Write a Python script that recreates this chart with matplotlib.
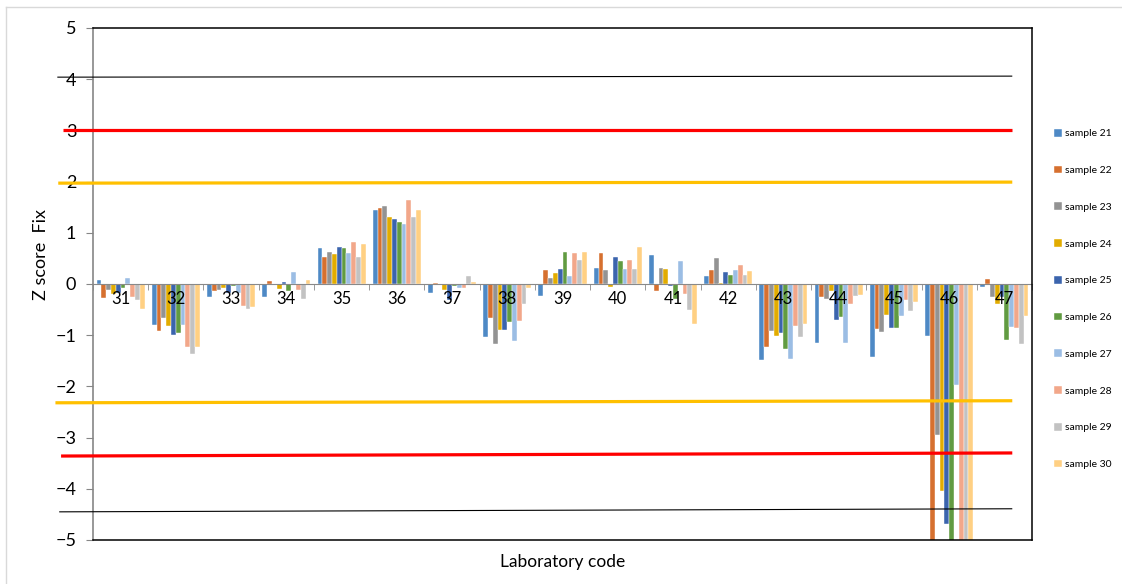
import numpy as np
import matplotlib
matplotlib.use("Agg")
import matplotlib.pyplot as plt
from matplotlib.lines import Line2D
import matplotlib.transforms as mtransforms

plt.rcParams['font.family'] = ['Lato', 'DejaVu Sans']

labs = ['31', '32', '33', '34', '35', '36', '37', '38', '39', '40',
        '41', '42', '43', '44', '45', '46', '47']
samples = ['sample 21', 'sample 22', 'sample 23', 'sample 24', 'sample 25',
           'sample 26', 'sample 27', 'sample 28', 'sample 29', 'sample 30']

# z scores, one list per sample, in lab order 31..47
s21 = [0.07, -0.81, -0.26, -0.26, 0.71, 1.45, -0.18, -1.03, -0.23, 0.32, 0.57, 0.16, -1.48, -1.16, -1.42, -1.02, -0.06]
s22 = [-0.28, -0.91, -0.14, 0.05, 0.53, 1.48, 0.02, -0.66, 0.27, 0.60, -0.13, 0.27, -1.23, -0.26, -0.87, -5.3, 0.10]
s23 = [-0.12, -0.67, -0.12, 0.0, 0.62, 1.53, 0.0, -1.17, 0.12, 0.27, 0.31, 0.51, -0.91, -0.30, -0.93, -2.95, -0.26]
s24 = [-0.20, -0.83, -0.08, -0.09, 0.58, 1.30, -0.12, -0.90, 0.21, -0.05, 0.29, 0.01, -1.01, -0.13, -0.60, -4.04, -0.39]
s25 = [-0.18, -1.00, -0.17, 0.03, 0.73, 1.27, -0.31, -0.89, 0.29, 0.52, -0.04, 0.23, -0.95, -0.70, -0.85, -4.68, -0.26]
s26 = [-0.08, -0.96, -0.04, -0.14, 0.71, 1.21, -0.04, -0.75, 0.62, 0.44, -0.29, 0.18, -1.27, -0.64, -0.85, -5.3, -1.10]
s27 = [0.11, -0.81, -0.18, 0.23, 0.61, 1.18, -0.08, -1.12, 0.15, 0.29, 0.45, 0.27, -1.47, -1.16, -0.63, -1.97, -0.84]
s28 = [-0.25, -1.24, -0.42, -0.11, 0.82, 1.65, -0.08, -0.73, 0.60, 0.47, -0.20, 0.37, -0.83, -0.40, -0.32, -5.3, -0.85]
s29 = [-0.31, -1.37, -0.49, -0.29, 0.53, 1.31, 0.15, -0.40, 0.47, 0.30, -0.51, 0.17, -1.03, -0.23, -0.52, -5.3, -1.17]
s30 = [-0.48, -1.23, -0.44, 0.08, 0.79, 1.44, 0.04, -0.08, 0.62, 0.73, -0.79, 0.26, -0.79, -0.21, -0.36, -5.3, -0.62]
series = [s21, s22, s23, s24, s25, s26, s27, s28, s29, s30]

colors = ['#4E89C5', '#D6702F', '#939393', '#E2AC00', '#3B64AD',
          '#619B41', '#9BBDE4', '#F2A78A', '#C2C2C2', '#FFD083']

# limit lines (value at left end, value at right end)
line_left = [4.04, 3.01, 1.97, -2.32, -3.36, -4.45]
line_right = [4.06, 3.01, 1.99, -2.28, -3.30, -4.39]
line_colors = ['black', '#FF0000', '#FFC000', '#FFC000', '#FF0000', 'black']
line_widths = [0.8, 2.3, 2.3, 2.3, 2.3, 0.8]
line_x0 = [-0.038, -0.032, -0.037, -0.040, -0.034, -0.036]

fig = plt.figure(figsize=(11.22, 5.84), dpi=100)
ax = fig.add_axes([93/1122, 1-540/584, (1032-93)/1122, (540-28)/584])

x = np.arange(len(labs))
n = len(series)
group = 0.87
w = group / n
bars = []
for i, (vals, c) in enumerate(zip(series, colors)):
    b = ax.bar(x - group/2 + w*(i+0.5), vals, width=w, color=c,
               edgecolor='white', linewidth=0.3, label=samples[i], zorder=1)
    bars.append(b)

ax.set_axisbelow(False)
ax.set_xlim(-0.5, len(labs)-0.5)
ax.set_ylim(-5, 5)
ax.set_yticks(range(-5, 6))
ax.tick_params(axis='y', labelsize=13, direction='out', length=5, color='#868686', pad=7)

# x axis sits at zero
ax.spines['bottom'].set_position(('data', 0))
ax.spines['bottom'].set_color('#898989')
ax.spines['left'].set_color('#868686')
ax.spines['left'].set_linewidth(1.2)
ax.spines['top'].set_visible(False)
ax.spines['right'].set_visible(False)
ax.set_xticks(x)
ax.set_xticklabels(labs)
ax.set_xticks(np.arange(len(labs)+1) - 0.5, minor=True)
ax.tick_params(axis='x', which='major', length=0, labelsize=12, pad=5)
ax.tick_params(axis='x', which='minor', length=4, color='#898989', direction='out')

# frame: top, right, bottom
for xs, ys in [([0, 1], [1, 1]), ([1, 1], [0, 1]), ([0, 1], [0, 0])]:
    ax.plot(xs, ys, color='black', lw=1.1, transform=ax.transAxes, clip_on=False, zorder=4)

# limit lines extend left of the plot area
trans = mtransforms.blended_transform_factory(ax.transAxes, ax.transData)
for yl, yr, c, lw, x0 in zip(line_left, line_right, line_colors, line_widths, line_x0):
    ax.plot([x0, 0.979], [yl, yr], color=c, lw=lw, transform=trans,
            clip_on=False, zorder=3, solid_capstyle='butt')

ax.set_ylabel('Z score  Fix', fontsize=13)
ax.yaxis.set_label_coords(-0.047, 0.557)
ax.set_xlabel('Laboratory code', fontsize=12.5)
ax.xaxis.set_label_coords(0.5, -0.027)

ax.legend(handles=bars, loc='upper left', bbox_to_anchor=(1054/1122, 1-129/584),
          bbox_transform=fig.transFigure, frameon=False, fontsize=7.5,
          handlelength=0.75, handleheight=0.75, handletextpad=0.3,
          labelspacing=2.62, borderpad=0, borderaxespad=0)

# outer chart border
fig.add_artist(Line2D([6/1122, 1], [1-7/584, 1-7/584], color='#D9D9D9', lw=1, transform=fig.transFigure))
fig.add_artist(Line2D([6/1122, 6/1122], [0, 1-7/584], color='#D9D9D9', lw=1, transform=fig.transFigure))

fig.savefig('out.png', dpi=100)
